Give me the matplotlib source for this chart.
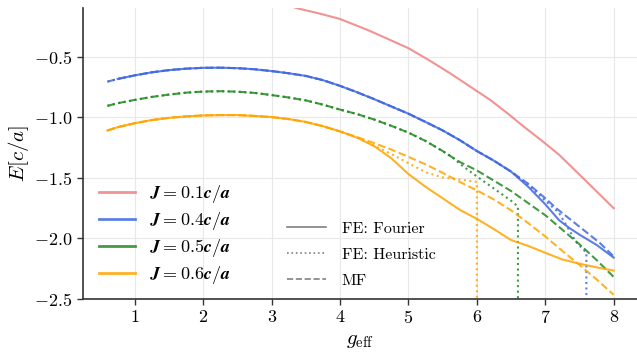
import numpy as np
import matplotlib
matplotlib.use('Agg')
import matplotlib.pyplot as plt
from matplotlib.lines import Line2D

plt.rcParams['font.family'] = ['cmr10', 'DejaVu Serif']
plt.rcParams['mathtext.fontset'] = 'cm'
plt.rcParams['axes.formatter.use_mathtext'] = True

# J = 0.1 c/a (only upper part visible)
g_red = [3.0, 3.4, 3.7, 4.0, 4.2, 4.4, 4.7, 5.0, 5.3, 5.6, 6.0, 6.2, 6.45, 6.7, 6.95, 7.2, 7.6, 8.0]
e_red = [-0.04, -0.105, -0.145, -0.19, -0.235, -0.28, -0.355, -0.431, -0.53, -0.635, -0.785, -0.86,
         -0.97, -1.085, -1.195, -1.31, -1.53, -1.752]

# J = 0.4 c/a
g_blue = [0.6, 0.75, 1.0, 1.25, 1.5, 1.75, 2.0, 2.25, 2.5, 2.75, 3.0, 3.25, 3.5, 3.75, 4.0, 4.25,
          4.5, 4.75, 5.0, 5.25, 5.5, 5.75, 6.0, 6.25, 6.5]
e_blue = [-0.707, -0.685, -0.655, -0.630, -0.612, -0.600, -0.593, -0.592, -0.596, -0.605, -0.620,
          -0.638, -0.660, -0.695, -0.742, -0.795, -0.852, -0.912, -0.972, -1.04, -1.11, -1.19,
          -1.28, -1.36, -1.45]
g_blue_fe_tail = [6.75, 7.0, 7.2, 7.35, 7.5, 7.75, 8.0]
e_blue_fe_tail = [-1.575, -1.72, -1.85, -1.915, -1.97, -2.055, -2.16]
g_blue_heu_tail = [6.75, 7.0, 7.2, 7.45, 7.6, 7.6]
e_blue_heu_tail = [-1.56, -1.69, -1.79, -2.03, -2.12, -3.0]
g_blue_mf_tail = [6.75, 7.0, 7.16, 7.5, 7.8, 8.0]
e_blue_mf_tail = [-1.55, -1.67, -1.752, -1.905, -2.04, -2.15]

# J = 0.5 c/a
g_green = [0.6, 0.75, 1.0, 1.25, 1.5, 1.75, 2.0, 2.25, 2.5, 2.75, 3.0, 3.25, 3.5, 3.75, 4.0, 4.25,
           4.5, 4.75, 5.0, 5.25, 5.5, 5.65]
e_green = [-0.907, -0.885, -0.858, -0.833, -0.814, -0.798, -0.789, -0.786, -0.790, -0.800, -0.818,
           -0.838, -0.862, -0.897, -0.938, -0.975, -1.02, -1.072, -1.128, -1.197, -1.28, -1.335]
g_green_mf_tail = [5.75, 6.0, 6.25, 6.5, 6.75, 7.0, 7.25, 7.5, 7.75, 8.0]
e_green_mf_tail = [-1.37, -1.44, -1.525, -1.61, -1.71, -1.81, -1.93, -2.05, -2.18, -2.32]
g_green_heu_tail = [5.75, 6.0, 6.25, 6.5, 6.6, 6.6]
e_green_heu_tail = [-1.385, -1.49, -1.59, -1.69, -1.738, -3.0]

# J = 0.6 c/a
g_orange = [0.6, 0.75, 1.0, 1.25, 1.5, 1.75, 2.0, 2.25, 2.5, 2.75, 3.0, 3.25, 3.5, 3.75, 4.0]
e_orange = [-1.11, -1.083, -1.050, -1.024, -1.006, -0.994, -0.986, -0.983, -0.983, -0.990, -1.000,
            -1.016, -1.040, -1.075, -1.118]
g_orange_fe_tail = [4.25, 4.5, 4.75, 5.0, 5.25, 5.5, 5.75, 6.0, 6.25, 6.5, 6.75, 7.0, 7.25, 7.5,
                    7.75, 8.0]
e_orange_fe_tail = [-1.17, -1.24, -1.34, -1.47, -1.575, -1.67, -1.765, -1.84, -1.925, -2.015,
                    -2.063, -2.12, -2.175, -2.21, -2.24, -2.267]
g_orange_heu_tail = [4.25, 4.5, 4.75, 5.0, 5.25, 5.5, 5.75, 6.0, 6.0]
e_orange_heu_tail = [-1.168, -1.235, -1.305, -1.38, -1.455, -1.498, -1.515, -1.535, -3.0]
g_orange_mf_tail = [4.25, 4.5, 4.75, 5.0, 5.25, 5.5, 5.75, 6.0, 6.25, 6.5, 6.75, 7.0, 7.25, 7.5,
                    7.75, 8.0]
e_orange_mf_tail = [-1.165, -1.215, -1.268, -1.328, -1.39, -1.46, -1.535, -1.605, -1.68, -1.77,
                    -1.875, -1.985, -2.105, -2.22, -2.34, -2.467]

labels = [r'$\boldsymbol{J = 0.1 c/a}$', r'$\boldsymbol{J = 0.4 c/a}$',
          r'$\boldsymbol{J = 0.5 c/a}$', r'$\boldsymbol{J = 0.6 c/a}$']
colors = ['lightcoral', 'royalblue', 'forestgreen', 'orange']

fig = plt.figure(figsize=(6.37, 3.52), dpi=100)
ax = fig.add_axes([0.130, 0.151, 0.870, 0.826])

lw = 1.5
a = 0.85
ax.plot(g_red, e_red, '-', color=colors[0], lw=lw, alpha=a)

ax.plot(g_blue[1:] + g_blue_fe_tail, e_blue[1:] + e_blue_fe_tail, '-', color=colors[1], lw=lw, alpha=a)
ax.plot(g_blue + g_blue_heu_tail, e_blue + e_blue_heu_tail, ':', color=colors[1], lw=lw, alpha=a)
ax.plot(g_blue + g_blue_mf_tail, e_blue + e_blue_mf_tail, '--', color=colors[1], lw=lw, alpha=a)

ax.plot(g_green + g_green_heu_tail, e_green + e_green_heu_tail, ':', color=colors[2], lw=lw, alpha=a)
ax.plot(g_green + g_green_mf_tail, e_green + e_green_mf_tail, '--', color=colors[2], lw=lw, alpha=a)

ax.plot(g_orange + g_orange_fe_tail, e_orange + e_orange_fe_tail, '-', color=colors[3], lw=lw, alpha=a)
ax.plot(g_orange + g_orange_heu_tail, e_orange + e_orange_heu_tail, ':', color=colors[3], lw=lw, alpha=a)
ax.plot(g_orange + g_orange_mf_tail, e_orange + e_orange_mf_tail, '--', color=colors[3], lw=lw, alpha=a)

ax.set_xlim(0.24, 8.34)
ax.set_ylim(-2.5, -0.1)
ax.set_xticks([1, 2, 3, 4, 5, 6, 7, 8])
ax.set_yticks([-2.5, -2.0, -1.5, -1.0, -0.5])
ax.set_xlabel(r'$g_{\rm eff}$', fontsize=15, labelpad=4)
ax.set_ylabel(r'$E[c/a]$', fontsize=15, labelpad=2)
ax.tick_params(labelsize=13, length=4, width=1, color='#333333', direction='out')
ax.grid(True, color='#e8e8e8', lw=0.8)
ax.set_axisbelow(True)
for s in ['top', 'right']:
    ax.spines[s].set_visible(False)
for s in ['left', 'bottom']:
    ax.spines[s].set_color('#333333')
    ax.spines[s].set_linewidth(1.2)

h1 = [Line2D([], [], color=c, lw=2, alpha=a) for c in colors]
leg1 = ax.legend(h1, labels, loc='lower left', bbox_to_anchor=(0.0, -0.012), frameon=False,
                 fontsize=13, labelspacing=0.27, handlelength=2.0)
ax.add_artist(leg1)

h2 = [Line2D([], [], color='gray', lw=1.2, ls=s) for s in ['-', ':', '--']]
ax.legend(h2, ['FE: Fourier', 'FE: Heuristic', 'MF'], loc='lower left',
          bbox_to_anchor=(0.343, -0.012), frameon=False, fontsize=11.5, labelspacing=0.74,
          handlelength=2.4, handletextpad=1.0)

fig.savefig('out.png', dpi=100)
